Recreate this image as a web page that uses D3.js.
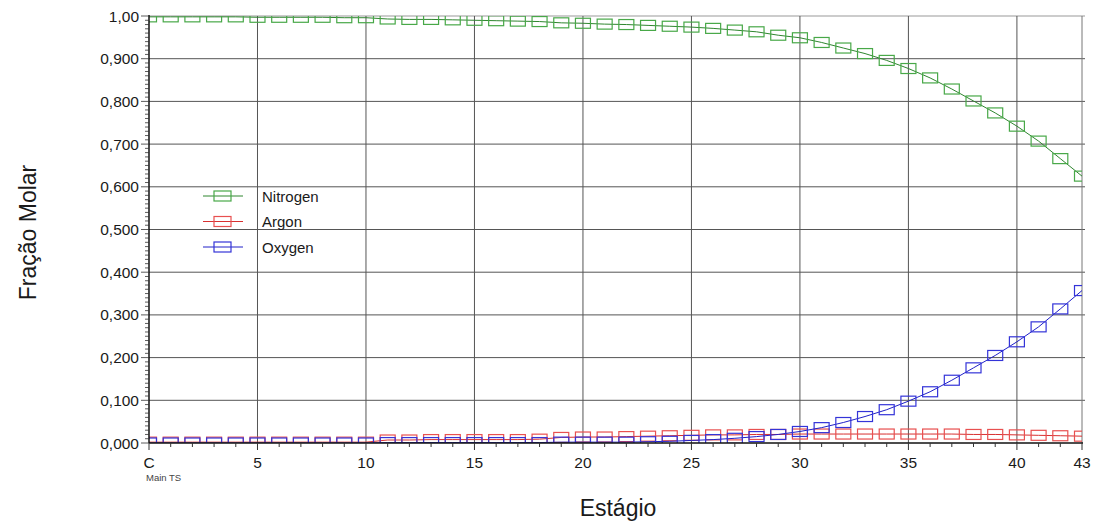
<!DOCTYPE html>
<html>
<head>
<meta charset="utf-8">
<script src="https://cdn.jsdelivr.net/npm/d3@7"></script>
<style>
  body { margin: 0; background: #fff; }
  text { font-family: "Liberation Sans", Arial, sans-serif; fill: #1a1a1a; }
  .tick_label { font-size: 15.5px; }
  .axis_title { font-size: 23px; }
</style>
</head>
<body>
<svg id="chart" width="1095" height="525"></svg>
<script>
// stage 0 is the condenser ("C")
let stages = d3.range(0, 44);

let nitrogen = [0.998, 0.998, 0.998, 0.998, 0.998, 0.997, 0.997, 0.997, 0.997, 0.996,
                0.996, 0.993, 0.992, 0.992, 0.991, 0.990, 0.989, 0.988, 0.987, 0.984,
                0.983, 0.981, 0.980, 0.978, 0.976, 0.974, 0.971, 0.967, 0.963, 0.955,
                0.949, 0.938, 0.925, 0.912, 0.896, 0.877, 0.855, 0.829, 0.801, 0.773,
                0.742, 0.707, 0.666, 0.625];

let argon = [0.002, 0.002, 0.002, 0.002, 0.002, 0.002, 0.002, 0.002, 0.002, 0.002,
             0.002, 0.007, 0.007, 0.008, 0.008, 0.008, 0.008, 0.008, 0.009, 0.013,
             0.014, 0.014, 0.015, 0.016, 0.017, 0.018, 0.019, 0.019, 0.020, 0.020,
             0.021, 0.021, 0.021, 0.021, 0.021, 0.021, 0.021, 0.021, 0.020, 0.020,
             0.019, 0.018, 0.017, 0.016];

let oxygen = [0.000, 0.000, 0.000, 0.000, 0.000, 0.000, 0.000, 0.000, 0.000, 0.000,
              0.000, 0.001, 0.001, 0.001, 0.001, 0.001, 0.001, 0.001, 0.001, 0.002,
              0.002, 0.002, 0.002, 0.003, 0.004, 0.006, 0.008, 0.011, 0.015, 0.020,
              0.027, 0.036, 0.048, 0.062, 0.078, 0.098, 0.120, 0.147, 0.176, 0.205,
              0.237, 0.272, 0.314, 0.357];

let series_names = ["Nitrogen", "Argon", "Oxygen"];
let series_values = [nitrogen, argon, oxygen];
let series_marker = ["#48a848", "#e85050", "#3434d8"];
let series_line = ["#2f862f", "#d83030", "#2020c8"];

let x_ticks = [0, 5, 10, 15, 20, 25, 30, 35, 40, 43];
let x_tick_labels = ["C", "5", "10", "15", "20", "25", "30", "35", "40", "43"];
let y_ticks = [0, 0.1, 0.2, 0.3, 0.4, 0.5, 0.6, 0.7, 0.8, 0.9, 1.0];

let margins = {left: 149, right: 13, top: 16, bottom: 82},
  width = 1095,
  height = 525;

let svg = d3.select("#chart");

let x = d3.scaleLinear().domain([0, 43]).range([margins.left, width - margins.right]),
  y = d3.scaleLinear().domain([0, 1]).range([height - margins.bottom, margins.top]);

let x0 = x(0), x1 = x(43), y0 = y(0), y1 = y(1);

// grid
let grid = svg.append("g");
grid.selectAll("line.h")
  .data(y_ticks.slice(1)).enter()
  .append("line")
  .attr("x1", x0).attr("x2", x1 + 3)
  .attr("y1", d => y(d)).attr("y2", d => y(d))
  .attr("stroke", d => d == 1 ? "#999" : "#555")
  .attr("stroke-width", 1);
grid.selectAll("line.v")
  .data(x_ticks.slice(1)).enter()
  .append("line")
  .attr("x1", d => x(d)).attr("x2", d => x(d))
  .attr("y1", y1).attr("y2", y0)
  .attr("stroke", d => d == 43 ? "#777" : "#555")
  .attr("stroke-width", 1);

// series
svg.append("defs").append("clipPath").attr("id", "plot_clip")
  .append("rect")
  .attr("x", x0).attr("y", y1)
  .attr("width", x1 - x0).attr("height", y0 - y1);

let plot = svg.append("g").attr("clip-path", "url(#plot_clip)");
let line = d3.line().x((d, i) => x(stages[i])).y(d => y(d));
let mw = 15, mh = 10;

series_values.forEach((vals, k) => {
  plot.append("path")
    .datum(vals)
    .attr("d", line)
    .attr("fill", "none")
    .attr("stroke", series_line[k])
    .attr("stroke-width", 1);
  plot.append("g").selectAll("rect")
    .data(vals).enter()
    .append("rect")
    .attr("x", (d, i) => x(stages[i]) - mw / 2)
    .attr("y", d => y(d) - mh / 2)
    .attr("width", mw).attr("height", mh)
    .attr("fill", "none")
    .attr("stroke", series_marker[k])
    .attr("stroke-width", 1.2);
});

// axes
let axes = svg.append("g");
axes.append("line")
  .attr("x1", x0).attr("x2", x0).attr("y1", y1 - 1).attr("y2", y0)
  .attr("stroke", "#111").attr("stroke-width", 1.5);
axes.append("line")
  .attr("x1", x0).attr("x2", x1 + 1).attr("y1", y0).attr("y2", y0)
  .attr("stroke", "#111").attr("stroke-width", 1.5);

// y minor ticks every 0.01
axes.selectAll("line.ym")
  .data(d3.range(0, 101)).enter()
  .append("line")
  .attr("x1", d => d % 10 == 0 ? x0 - 8 : x0 - 4).attr("x2", x0)
  .attr("y1", d => y(d / 100)).attr("y2", d => y(d / 100))
  .attr("stroke", "#333").attr("stroke-width", 0.8);

// x minor ticks at each stage
axes.selectAll("line.xm")
  .data(stages).enter()
  .append("line")
  .attr("x1", d => x(d)).attr("x2", d => x(d))
  .attr("y1", y0).attr("y2", d => x_ticks.indexOf(d) >= 0 ? y0 + 7 : y0 + 4)
  .attr("stroke", "#333").attr("stroke-width", 1);

axes.selectAll("text.yl")
  .data(y_ticks).enter()
  .append("text")
  .attr("class", "tick_label")
  .attr("x", x0 - 10)
  .attr("y", d => y(d) + 5.5)
  .attr("text-anchor", "end")
  .text(d => d == 1 ? "1,00" : d.toFixed(3).replace(".", ","));

axes.selectAll("text.xl")
  .data(x_ticks).enter()
  .append("text")
  .attr("class", "tick_label")
  .attr("x", d => x(d))
  .attr("y", y0 + 25)
  .attr("text-anchor", "middle")
  .text((d, i) => x_tick_labels[i]);

axes.append("text")
  .attr("x", x0 - 3).attr("y", y0 + 38)
  .style("font-size", "9.5px")
  .style("fill", "#444")
  .text("Main TS");

// titles
svg.append("text")
  .attr("class", "axis_title")
  .attr("transform", `translate(36, ${(y0 + y1) / 2 + 3})rotate(-90)`)
  .attr("text-anchor", "middle")
  .text("Fração Molar");
svg.append("text")
  .attr("class", "axis_title")
  .attr("x", 618).attr("y", 516)
  .attr("text-anchor", "middle")
  .text("Estágio");

// legend
let legend = svg.append("g").selectAll("g")
  .data(series_names).enter()
  .append("g")
  .attr("transform", (d, i) => `translate(203, ${196 + i * 25.5})`);
legend.append("line")
  .attr("x1", 0).attr("x2", 40).attr("y1", 0).attr("y2", 0)
  .attr("stroke", (d, i) => series_line[i]).attr("stroke-width", 1);
legend.append("rect")
  .attr("x", 11).attr("y", -5).attr("width", 17).attr("height", 10)
  .attr("fill", "none")
  .attr("stroke", (d, i) => series_marker[i]).attr("stroke-width", 1.2);
legend.append("text")
  .attr("x", 59).attr("y", 5.5)
  .style("font-size", "15px")
  .text(d => d);
</script>
</body>
</html>
